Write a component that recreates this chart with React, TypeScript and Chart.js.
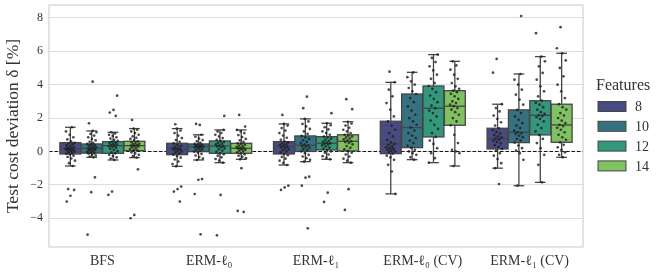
import React, { useEffect, useRef } from "react";
import { Chart, registerables } from "chart.js";

Chart.register(...registerables);

const METHODS = ["BFS", "ERM-ℓ₀", "ERM-ℓ₁", "ERM-ℓ₀ (CV)", "ERM-ℓ₁ (CV)"];
const FEATURES = ["8", "10", "12", "14"];
const HUE_COLORS = ["#474b80", "#367182", "#33977c", "#80c161"];
const Y_TICKS = [-4, -2, 0, 2, 4, 6, 8];

// Box statistics [method][feature]
const WHISK_LO = [
  [-0.87, -0.35, -0.51, -0.37],
  [-0.89, -0.51, -0.67, -0.47],
  [-0.81, -0.61, -0.47, -0.67],
  [-2.54, -0.49, -0.67, -0.87],
  [-1.0, -2.05, -1.85, -0.35],
];
const Q1 = [
  [-0.15, -0.1, -0.11, 0.05],
  [-0.19, -0.01, -0.11, -0.11],
  [-0.15, 0.0, 0.09, 0.03],
  [-0.13, 0.23, 0.87, 1.57],
  [0.15, 0.53, 0.99, 0.55],
];
const MEDIAN = [
  [0.15, 0.19, 0.35, 0.35],
  [0.15, 0.29, 0.33, 0.19],
  [0.29, 0.37, 0.49, 0.61],
  [0.45, 1.43, 2.59, 2.71],
  [0.77, 1.15, 2.17, 1.59],
];
const Q3 = [
  [0.53, 0.45, 0.59, 0.61],
  [0.49, 0.45, 0.63, 0.49],
  [0.59, 0.93, 0.89, 1.0],
  [1.81, 3.44, 3.92, 3.64],
  [1.39, 2.49, 3.04, 2.83],
];
const WHISK_HI = [
  [1.45, 1.23, 1.15, 1.37],
  [1.37, 1.0, 1.29, 1.29],
  [1.65, 1.95, 1.69, 1.78],
  [4.14, 4.74, 5.8, 5.4],
  [2.83, 4.64, 5.68, 5.88],
];

// Individual observations [feature][...]
const BFS_VALUES = [
  [-2.25, -2.3, -2.65, -3.0, -0.87, -0.7, -0.55, -0.42, -0.33, -0.25, -0.18, -0.14, -0.1, -0.05, 0.0, 0.03, 0.07, 0.1, 0.13, 0.15, 0.17, 0.2, 0.25, 0.3, 0.36, 0.42, 0.48, 0.52, 0.6, 0.72, 0.85, 1.0, 1.2, 1.45],
  [4.18, 1.69, -1.55, -2.44, -4.98, -0.35, -0.3, -0.24, -0.18, -0.13, -0.1, -0.06, -0.02, 0.02, 0.06, 0.1, 0.13, 0.16, 0.19, 0.22, 0.26, 0.3, 0.34, 0.38, 0.42, 0.45, 0.5, 0.58, 0.66, 0.75, 0.85, 0.95, 1.05, 1.15, 1.23],
  [3.34, 2.49, 2.33, 2.13, -2.4, -2.6, -0.51, -0.42, -0.35, -0.27, -0.2, -0.11, -0.05, 0.02, 0.1, 0.17, 0.23, 0.28, 0.32, 0.35, 0.38, 0.42, 0.46, 0.5, 0.55, 0.59, 0.64, 0.7, 0.77, 0.85, 0.93, 1.0, 1.08, 1.15],
  [1.89, -1.07, -3.8, -4.0, -0.37, -0.28, -0.2, -0.12, -0.05, 0.05, 0.1, 0.15, 0.2, 0.25, 0.3, 0.33, 0.35, 0.38, 0.42, 0.46, 0.5, 0.55, 0.61, 0.68, 0.75, 0.82, 0.9, 1.0, 1.1, 1.2, 1.3, 1.37],
];
const ERM_L0_VALUES = [
  [1.63, -2.1, -2.25, -2.4, -3.0, -0.89, -0.75, -0.6, -0.48, -0.37, -0.27, -0.19, -0.12, -0.06, 0.0, 0.05, 0.1, 0.13, 0.15, 0.18, 0.22, 0.27, 0.33, 0.4, 0.49, 0.58, 0.68, 0.8, 0.95, 1.1, 1.25, 1.37],
  [1.59, 1.65, -1.65, -1.7, -2.55, -4.96, -0.51, -0.42, -0.33, -0.24, -0.15, -0.07, -0.01, 0.05, 0.1, 0.15, 0.2, 0.24, 0.27, 0.29, 0.31, 0.34, 0.37, 0.4, 0.43, 0.45, 0.52, 0.6, 0.68, 0.77, 0.88, 1.0],
  [2.13, -2.6, -5.02, -0.67, -0.55, -0.45, -0.35, -0.25, -0.17, -0.11, -0.03, 0.05, 0.12, 0.19, 0.25, 0.3, 0.33, 0.37, 0.42, 0.47, 0.52, 0.58, 0.63, 0.7, 0.8, 0.9, 1.0, 1.1, 1.2, 1.29],
  [2.19, 1.49, -1.0, -3.56, -3.62, -0.47, -0.4, -0.32, -0.25, -0.17, -0.11, -0.05, 0.0, 0.05, 0.1, 0.14, 0.17, 0.19, 0.22, 0.26, 0.3, 0.35, 0.4, 0.45, 0.49, 0.57, 0.66, 0.75, 0.86, 0.98, 1.1, 1.2, 1.29],
];
const ERM_L1_VALUES = [
  [2.19, -2.05, -2.15, -2.3, -0.81, -0.68, -0.55, -0.43, -0.32, -0.22, -0.15, -0.07, 0.0, 0.07, 0.13, 0.19, 0.24, 0.29, 0.33, 0.38, 0.43, 0.48, 0.54, 0.59, 0.7, 0.82, 0.95, 1.1, 1.25, 1.4, 1.55, 1.65],
  [3.28, 2.59, -1.51, -1.57, -2.05, -4.6, -0.61, -0.5, -0.4, -0.3, -0.2, -0.1, 0.0, 0.08, 0.15, 0.22, 0.28, 0.33, 0.37, 0.42, 0.5, 0.58, 0.67, 0.76, 0.85, 0.93, 1.05, 1.2, 1.35, 1.5, 1.65, 1.8, 1.95],
  [2.29, -2.47, -3.02, -0.47, -0.38, -0.28, -0.18, -0.08, 0.0, 0.09, 0.16, 0.23, 0.3, 0.36, 0.42, 0.46, 0.49, 0.53, 0.58, 0.64, 0.7, 0.77, 0.83, 0.89, 1.0, 1.1, 1.2, 1.32, 1.45, 1.57, 1.69],
  [3.13, 2.53, -2.26, -3.5, -0.67, -0.55, -0.43, -0.3, -0.18, -0.07, 0.03, 0.12, 0.22, 0.32, 0.42, 0.5, 0.56, 0.61, 0.66, 0.72, 0.78, 0.84, 0.9, 0.95, 1.0, 1.1, 1.2, 1.3, 1.42, 1.55, 1.67, 1.78],
];
const ERM_L0_CV_VALUES = [
  [4.78, -2.54, -1.2, -0.8, -0.5, -0.35, -0.25, -0.13, -0.05, 0.0, 0.05, 0.1, 0.15, 0.2, 0.25, 0.3, 0.38, 0.45, 0.55, 0.7, 0.9, 1.1, 1.3, 1.55, 1.81, 2.1, 2.5, 2.9, 3.3, 3.7, 4.14],
  [-0.49, -0.35, -0.2, -0.1, 0.0, 0.1, 0.23, 0.35, 0.5, 0.65, 0.8, 0.95, 1.1, 1.25, 1.43, 1.6, 1.8, 2.0, 2.2, 2.45, 2.7, 2.95, 3.2, 3.44, 3.6, 3.8, 4.0, 4.2, 4.45, 4.74],
  [-0.67, -0.4, -0.1, 0.2, 0.45, 0.65, 0.87, 1.1, 1.35, 1.6, 1.85, 2.1, 2.3, 2.45, 2.59, 2.75, 2.95, 3.15, 3.35, 3.55, 3.75, 3.92, 4.1, 4.35, 4.6, 4.85, 5.1, 5.35, 5.6, 5.8],
  [-0.87, -0.1, 0.0, 0.1, 0.5, 1.0, 1.57, 1.8, 2.0, 2.2, 2.35, 2.5, 2.6, 2.71, 2.8, 2.9, 3.0, 3.15, 3.3, 3.45, 3.55, 3.64, 3.75, 3.9, 4.1, 4.35, 4.6, 4.9, 5.15, 5.4],
];
const ERM_L1_CV_VALUES = [
  [5.54, 4.72, -1.95, -1.0, -0.7, -0.45, -0.25, -0.1, 0.05, 0.15, 0.27, 0.38, 0.48, 0.57, 0.65, 0.72, 0.77, 0.83, 0.9, 0.98, 1.07, 1.17, 1.28, 1.39, 1.55, 1.75, 1.95, 2.15, 2.4, 2.6, 2.83],
  [8.11, -2.05, -0.5, -0.1, 0.05, 0.2, 0.35, 0.53, 0.65, 0.75, 0.85, 0.95, 1.05, 1.1, 1.15, 1.25, 1.4, 1.55, 1.7, 1.9, 2.1, 2.3, 2.49, 2.8, 3.1, 3.4, 3.7, 4.0, 4.3, 4.64],
  [7.08, -1.85, -0.8, -0.2, 0.2, 0.5, 0.75, 0.99, 1.2, 1.4, 1.6, 1.8, 1.95, 2.05, 2.12, 2.17, 2.25, 2.35, 2.5, 2.65, 2.8, 2.92, 3.04, 3.3, 3.6, 3.9, 4.3, 4.7, 5.1, 5.4, 5.68],
  [7.44, 6.18, -0.35, -0.2, -0.05, 0.1, 0.25, 0.4, 0.55, 0.7, 0.85, 1.0, 1.15, 1.3, 1.42, 1.52, 1.59, 1.7, 1.85, 2.0, 2.15, 2.3, 2.5, 2.65, 2.83, 3.2, 3.6, 4.0, 4.5, 5.0, 5.45, 5.88],
];
const ALL_VALUES = [BFS_VALUES, ERM_L0_VALUES, ERM_L1_VALUES, ERM_L0_CV_VALUES, ERM_L1_CV_VALUES];

const HUE_OFFSETS = [-0.3, -0.1, 0.1, 0.3];
const BOX_HALF = 0.098;
const CAP_HALF = 0.05;
const JITTER = 0.045;
const LINE = "#454545";
const TEXT = "#333333";
const FONT = "'Liberation Serif', 'DejaVu Serif', serif";

const jitter = (i: number) => ((((i * 0.6180339887) + 0.27) % 1) - 0.5) * 2 * JITTER;

const boxPlugin = {
  id: "boxes",
  beforeDatasetsDraw(chart: any) {
    const { ctx, chartArea: a, scales } = chart;
    const x = scales.x;
    const y = scales.y;
    ctx.save();
    const y0 = y.getPixelForValue(0);
    ctx.beginPath();
    ctx.setLineDash([3.5, 2]);
    ctx.strokeStyle = "#111";
    ctx.lineWidth = 1;
    ctx.moveTo(a.left, y0);
    ctx.lineTo(a.right, y0);
    ctx.stroke();
    ctx.setLineDash([]);
    const line = (x1: number, y1: number, x2: number, y2: number) => {
      ctx.beginPath();
      ctx.moveTo(x1, y1);
      ctx.lineTo(x2, y2);
      ctx.stroke();
    };
    METHODS.forEach((_m, m) => {
      FEATURES.forEach((_f, h) => {
        const c = m + HUE_OFFSETS[h];
        const xl = x.getPixelForValue(c - BOX_HALF);
        const xr = x.getPixelForValue(c + BOX_HALF);
        const xc = x.getPixelForValue(c);
        const cl = x.getPixelForValue(c - CAP_HALF);
        const cr = x.getPixelForValue(c + CAP_HALF);
        const ylo = y.getPixelForValue(WHISK_LO[m][h]);
        const yq1 = y.getPixelForValue(Q1[m][h]);
        const ymd = y.getPixelForValue(MEDIAN[m][h]);
        const yq3 = y.getPixelForValue(Q3[m][h]);
        const yhi = y.getPixelForValue(WHISK_HI[m][h]);
        ctx.strokeStyle = LINE;
        ctx.lineWidth = 1.3;
        line(xc, yq3, xc, yhi);
        line(xc, yq1, xc, ylo);
        line(cl, yhi, cr, yhi);
        line(cl, ylo, cr, ylo);
        ctx.fillStyle = HUE_COLORS[h];
        ctx.fillRect(xl, yq3, xr - xl, yq1 - yq3);
        ctx.strokeRect(xl, yq3, xr - xl, yq1 - yq3);
        line(xl, ymd, xr, ymd);
      });
    });
    ctx.restore();
  },
  afterDraw(chart: any) {
    const { ctx, chartArea: a } = chart;
    ctx.save();
    ctx.strokeStyle = "#d0d0d0";
    ctx.lineWidth = 1.2;
    ctx.strokeRect(a.left, a.top, a.right - a.left, a.bottom - a.top);
    // legend
    const lx = a.right + 15;
    const cy = (a.top + a.bottom) / 2;
    ctx.fillStyle = TEXT;
    ctx.font = `16px ${FONT}`;
    ctx.textBaseline = "middle";
    ctx.textAlign = "left";
    ctx.fillText("Features", a.right + 13, cy - 40);
    FEATURES.forEach((f, i) => {
      const yy = cy - 19.5 + i * 19.8;
      ctx.fillStyle = HUE_COLORS[i];
      ctx.fillRect(lx, yy - 5, 28, 10);
      ctx.strokeStyle = LINE;
      ctx.lineWidth = 1;
      ctx.strokeRect(lx, yy - 5, 28, 10);
      ctx.fillStyle = TEXT;
      ctx.font = `14px ${FONT}`;
      ctx.fillText(f, lx + 37, yy + 1);
    });
    ctx.restore();
  },
};

export default function App() {
  const ref = useRef<HTMLCanvasElement | null>(null);
  useEffect(() => {
    document.body.style.margin = "0";
    if (!ref.current) return;
    const datasets = FEATURES.map((f, h) => ({
      label: f,
      data: ALL_VALUES.flatMap((group, m) =>
        group[h].map((v, i) => ({ x: m + HUE_OFFSETS[h] + jitter(i + h * 7 + m * 13), y: v }))
      ),
      pointRadius: 1.35,
      pointBackgroundColor: "rgba(30,30,30,0.8)",
      pointBorderWidth: 0,
      pointHoverRadius: 1.35,
    }));
    const chart = new Chart(ref.current, {
      type: "scatter",
      data: { datasets },
      options: {
        animation: false,
        responsive: false,
        maintainAspectRatio: false,
        layout: { padding: { top: 5, right: 81, left: 0, bottom: 0 } },
        plugins: { legend: { display: false }, tooltip: { enabled: false } },
        scales: {
          x: {
            type: "linear",
            min: -0.5,
            max: 4.5,
            afterBuildTicks: (s: any) => {
              s.ticks = METHODS.map((_, i) => ({ value: i }));
            },
            afterFit: (s: any) => {
              s.height = 27;
              s.paddingLeft = 0;
              s.paddingRight = 0;
            },
            ticks: {
              callback: (v: any) => METHODS[Math.round(Number(v))],
              font: { family: FONT, size: 14 },
              color: TEXT,
              padding: 6,
              maxRotation: 0,
              autoSkip: false,
            },
            grid: { display: false, drawTicks: false },
            border: { display: false },
          },
          y: {
            min: -5.72,
            max: 8.77,
            afterBuildTicks: (s: any) => {
              s.ticks = Y_TICKS.map((v) => ({ value: v }));
            },
            afterFit: (s: any) => {
              s.width = 49;
              s.paddingTop = 0;
              s.paddingBottom = 0;
            },
            ticks: {
              callback: (v: any) => String(v).replace("-", "−"),
              font: { family: FONT, size: 12 },
              color: TEXT,
              padding: 6,
            },
            grid: { color: "#dddddd", lineWidth: 1, drawTicks: false },
            border: { display: false },
            title: {
              display: true,
              text: "Test cost deviation δ [%]",
              font: { family: FONT, size: 17.5 },
              color: TEXT,
              padding: { top: 3, bottom: 0 },
            },
          },
        },
      },
      plugins: [boxPlugin],
    });
    return () => chart.destroy();
  }, []);
  return <canvas ref={ref} width={664} height={274} style={{ display: "block" }} />;
}
